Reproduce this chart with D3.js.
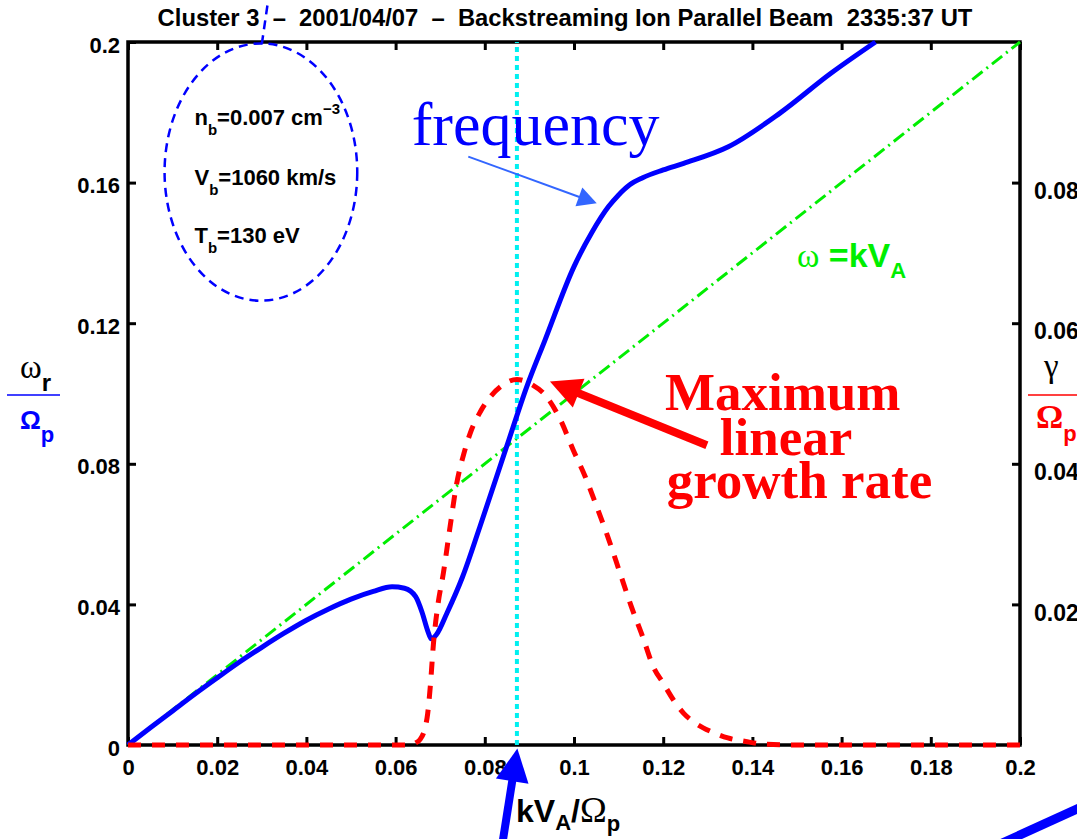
<!DOCTYPE html>
<html>
<head>
<meta charset="utf-8">
<script src="https://cdn.jsdelivr.net/npm/d3@7"></script>
<style>
  html, body { margin: 0; padding: 0; background: #fff; }
  svg { display: block; }
  text { font-family: "Liberation Sans", Arial, Helvetica, sans-serif; }
</style>
</head>
<body>
<svg id="chart" width="1077" height="839"></svg>
<script>
// Real frequency of the beam mode, ω_r/Ω_p versus kV_A/Ω_p (left axis)
const freqK = [0, 0.005, 0.01, 0.015, 0.02, 0.025, 0.03, 0.035, 0.04, 0.045, 0.05, 0.055,
  0.0592, 0.062, 0.0645, 0.066, 0.0672, 0.068, 0.0692, 0.0715, 0.075, 0.0789, 0.0849,
  0.0894, 0.0935, 0.1, 0.104, 0.1077, 0.11, 0.1125, 0.1154, 0.12, 0.1246, 0.1346, 0.1461,
  0.1576, 0.1676];
const freqOmega = [0, 0.0049, 0.0097, 0.0145, 0.0191, 0.0236, 0.0278, 0.0318, 0.0355,
  0.0387, 0.0415, 0.0437, 0.045, 0.0446, 0.0422, 0.0375, 0.0325, 0.0302, 0.0315, 0.0375,
  0.0478, 0.0621, 0.0849, 0.1019, 0.1152, 0.1361, 0.1458, 0.1531, 0.1565, 0.1594, 0.1614,
  0.1636, 0.1655, 0.1702, 0.1797, 0.1911, 0.2];

// Linear growth rate γ/Ω_p versus kV_A/Ω_p (right axis)
const growthK = [0, 0.02, 0.04, 0.06, 0.063, 0.0645, 0.0655, 0.0665, 0.0672, 0.0678,
  0.0685, 0.0695, 0.0707, 0.0722, 0.0737, 0.0752, 0.0767, 0.079, 0.0812, 0.084, 0.0872,
  0.0905, 0.0939, 0.097, 0.0998, 0.1025, 0.1051, 0.1077, 0.1103, 0.1128, 0.1154, 0.1178,
  0.12, 0.1223, 0.1246, 0.1275, 0.1308, 0.1345, 0.1385, 0.143, 0.15, 0.175, 0.2];
const growthGamma = [0, 0, 0, 0, 0, 0.0003, 0.0008, 0.0022, 0.0045, 0.0085, 0.0145,
  0.02, 0.0244, 0.031, 0.0372, 0.0412, 0.0443, 0.0474, 0.0495, 0.0512, 0.052, 0.0513,
  0.0495, 0.0462, 0.042, 0.0382, 0.0339, 0.0294, 0.0245, 0.0198, 0.0154, 0.0111, 0.0088,
  0.0064, 0.0045, 0.003, 0.0019, 0.001, 0.0005, 0.0001, 0, 0, 0];

// Alfvén dispersion line ω = kV_A
const alfvenK = [0, 0.2];
const alfvenOmega = [0, 0.2];

// wave number of maximum growth
const kMaxGrowth = 0.0872;

// axis ticks
const xTicks = [0, 0.02, 0.04, 0.06, 0.08, 0.1, 0.12, 0.14, 0.16, 0.18, 0.2];
const xTickLabels = ["0", "0.02", "0.04", "0.06", "0.08", "0.1", "0.12", "0.14", "0.16", "0.18", "0.2"];
const yLeftTicks = [0, 0.04, 0.08, 0.12, 0.16, 0.2];
const yLeftTickLabels = ["0", "0.04", "0.08", "0.12", "0.16", "0.2"];
const yRightTicks = [0.02, 0.04, 0.06, 0.08];
const yRightTickLabels = ["0.02", "0.04", "0.06", "0.08"];

const BLUE = "#0000ff", RED = "#ff0000", GREEN = "#00ee00", CYAN = "#00f0f0";
const SERIF = '"Liberation Serif", "Times New Roman", Times, serif';

const svg = d3.select("#chart");

const x = d3.scaleLinear().domain([0, 0.2]).range([128, 1020]);
const yL = d3.scaleLinear().domain([0, 0.2]).range([745, 42]);
const yR = d3.scaleLinear().domain([0, 0.1]).range([745, 42]);
const P = (k, w) => [x(k), yL(w)];

// ---- frame and axes ----
svg.append("rect")
  .attr("x", x(0)).attr("y", yL(0.2))
  .attr("width", x(0.2) - x(0)).attr("height", yL(0) - yL(0.2))
  .attr("fill", "none").attr("stroke", "#000").attr("stroke-width", 3.5);

function styleAxis(g) {
  g.select(".domain").remove();
  g.selectAll(".tick line").attr("stroke", "#000").attr("stroke-width", 3);
  g.selectAll(".tick text")
    .attr("fill", "#000")
    .style("font-family", '"Liberation Sans", Arial, sans-serif')
    .style("font-size", "22px").style("font-weight", "bold");
}

svg.append("g").attr("transform", `translate(0,${yL(0)})`)
  .call(d3.axisBottom(x).tickValues(xTicks).tickFormat((d, i) => xTickLabels[i])
    .tickSize(-8).tickPadding(14))
  .call(styleAxis);

svg.append("g").attr("transform", `translate(0,${yL(0.2)})`)
  .call(d3.axisTop(x).tickValues(xTicks).tickFormat("").tickSize(-8))
  .call(styleAxis);

svg.append("g").attr("transform", `translate(${x(0)},0)`)
  .call(d3.axisLeft(yL).tickValues(yLeftTicks).tickFormat((d, i) => yLeftTickLabels[i])
    .tickSize(-8).tickPadding(8))
  .call(styleAxis)
  .call(g => g.selectAll(".tick text").attr("dy", "0.46em"));

svg.append("g").attr("transform", `translate(${x(0.2)},0)`)
  .call(d3.axisRight(yR).tickValues(yRightTicks).tickFormat((d, i) => yRightTickLabels[i])
    .tickSize(-8).tickPadding(14))
  .call(styleAxis)
  .call(g => g.selectAll(".tick text").attr("dy", "0.68em").style("font-size", "23px"));

// ---- curves ----
const lineLeft = d3.line().x(d => x(d[0])).y(d => yL(d[1])).curve(d3.curveMonotoneX);
const lineRight = d3.line().x(d => x(d[0])).y(d => yR(d[1])).curve(d3.curveMonotoneX);

svg.append("path")
  .datum(d3.zip(alfvenK, alfvenOmega))
  .attr("d", lineLeft)
  .attr("fill", "none").attr("stroke", GREEN).attr("stroke-width", 3)
  .attr("stroke-dasharray", "13,5,2,5");

svg.append("line")
  .attr("x1", x(kMaxGrowth)).attr("x2", x(kMaxGrowth))
  .attr("y1", yL(0)).attr("y2", yL(0.2))
  .attr("stroke", CYAN).attr("stroke-width", 4).attr("stroke-dasharray", "5,4");

svg.append("path")
  .datum(d3.zip(freqK, freqOmega))
  .attr("d", lineLeft)
  .attr("fill", "none").attr("stroke", BLUE).attr("stroke-width", 5)
  .attr("stroke-linejoin", "round");

svg.append("path")
  .datum(d3.zip(growthK, growthGamma))
  .attr("d", lineRight)
  .attr("fill", "none").attr("stroke", RED).attr("stroke-width", 5)
  .attr("stroke-dasharray", "13,11");

// ---- annotations ----
function arrow(tail, tip, color, width, headLen, headW) {
  const dx = tip[0] - tail[0], dy = tip[1] - tail[1], L = Math.hypot(dx, dy);
  const ux = dx / L, uy = dy / L;
  const bx = tip[0] - ux * headLen, by = tip[1] - uy * headLen;
  svg.append("line")
    .attr("x1", tail[0]).attr("y1", tail[1])
    .attr("x2", bx + ux * 2).attr("y2", by + uy * 2)
    .attr("stroke", color).attr("stroke-width", width);
  svg.append("path")
    .attr("d", `M${tip[0]},${tip[1]}L${bx - uy * headW / 2},${by + ux * headW / 2}` +
      `L${bx + uy * headW / 2},${by - ux * headW / 2}Z`)
    .attr("fill", color);
}

// beam parameter ellipse
const ellC = P(0.0298, 0.163);
svg.append("ellipse")
  .attr("cx", ellC[0]).attr("cy", ellC[1])
  .attr("rx", x(0.0216) - x(0)).attr("ry", yL(0) - yL(0.0366))
  .attr("fill", "none").attr("stroke", BLUE).attr("stroke-width", 2.5)
  .attr("stroke-dasharray", "9,6");
const dl0 = P(0.03, 0.1994), dl1 = P(0.0315, 0.2125);
svg.append("line")
  .attr("x1", dl0[0]).attr("y1", dl0[1]).attr("x2", dl1[0]).attr("y2", dl1[1])
  .attr("stroke", BLUE).attr("stroke-width", 2.5).attr("stroke-dasharray", "9,6");

function beamLabel(k, w, main, sub, rest, sup) {
  const p = P(k, w);
  const t = svg.append("text").attr("x", p[0]).attr("y", p[1])
    .style("font-size", "22px").style("font-weight", "bold").attr("fill", "#000");
  t.append("tspan").text(main);
  t.append("tspan").attr("dy", 10).style("font-size", "15px").text(sub);
  t.append("tspan").attr("dy", -10).text(rest);
  if (sup) t.append("tspan").attr("dy", -11).style("font-size", "15px").text(sup);
}
beamLabel(0.0149, 0.1764, "n", "b", "=0.007 cm", "\u22123");
beamLabel(0.0149, 0.1593, "V", "b", "=1060 km/s");
beamLabel(0.0149, 0.1427, "T", "b", "=130 eV");

// frequency label and arrow
const fq = P(0.0636, 0.1707);
svg.append("text").attr("x", fq[0]).attr("y", fq[1])
  .style("font-family", SERIF)
  .style("font-size", "62px").attr("fill", BLUE).text("frequency");
arrow(P(0.0763, 0.1674), P(0.1051, 0.1541), "#3366ff", 2, 19, 20);

// maximum growth label and arrow
arrow(P(0.1298, 0.0853), P(0.0946, 0.1034), RED, 8, 31, 31);
{
  const lines = [["Maximum", 0.1204, 0.0953], ["linear", 0.1327, 0.0825], ["growth rate", 0.1208, 0.0703]];
  const t = svg.append("text")
    .style("font-family", SERIF)
    .style("font-size", "53px").style("font-weight", "bold").attr("fill", RED);
  lines.forEach(([s, k, w]) => {
    const p = P(k, w);
    t.append("tspan").attr("x", p[0]).attr("y", p[1]).text(s);
  });
}

// ω = kV_A label
{
  const p = P(0.15, 0.1361);
  const t = svg.append("text").attr("x", p[0]).attr("y", p[1])
    .attr("fill", GREEN).style("font-size", "34px").style("font-weight", "bold");
  t.append("tspan")
    .style("font-family", SERIF)
    .style("font-weight", "normal").text("\u03c9");
  t.append("tspan").text(" =kV");
  t.append("tspan").attr("dy", 11).style("font-size", "22px").text("A");
}

// arrows pointing at the wave number of maximum growth
arrow(P(0.0839, -0.0284), P(0.0873, -0.001), BLUE, 8, 33, 33);
const br0 = P(0.1955, -0.0282), br1 = P(0.2157, -0.0165);
svg.append("line")
  .attr("x1", br0[0]).attr("y1", br0[1]).attr("x2", br1[0]).attr("y2", br1[1])
  .attr("stroke", BLUE).attr("stroke-width", 9);

// ---- titles and axis labels ----
svg.append("text").attr("x", 565).attr("y", 26)
  .attr("text-anchor", "middle").style("white-space", "pre")
  .style("font-size", "23.8px").style("font-weight", "bold").attr("fill", "#000")
  .text("Cluster 3  \u2013  2001/04/07  \u2013  Backstreaming Ion Parallel Beam  2335:37 UT");

// x label
{
  const t = svg.append("text").attr("x", 516).attr("y", 822)
    .style("font-size", "32px").style("font-weight", "bold").attr("fill", "#000");
  t.append("tspan").text("kV");
  t.append("tspan").attr("dy", 8).style("font-size", "22px").text("A");
  t.append("tspan").attr("dy", -8).text("/");
  t.append("tspan")
    .style("font-family", SERIF)
    .style("font-weight", "normal").style("font-size", "36px").text("\u03a9");
  t.append("tspan").attr("dy", 9).style("font-size", "22px").text("p");
}

// left y label: ω_r / Ω_p
{
  const t1 = svg.append("text").attr("x", 20).attr("y", 378).attr("fill", "#000");
  t1.append("tspan")
    .style("font-family", SERIF)
    .style("font-size", "33px").text("\u03c9");
  t1.append("tspan").attr("dy", 13).style("font-size", "24px").style("font-weight", "bold").text("r");
  svg.append("line").attr("x1", 7).attr("x2", 60).attr("y1", 395).attr("y2", 395)
    .attr("stroke", BLUE).attr("stroke-width", 1.5);
  const t2 = svg.append("text").attr("x", 20).attr("y", 429).attr("fill", BLUE)
    .style("font-weight", "bold");
  t2.append("tspan").style("font-size", "26px").text("\u03a9");
  t2.append("tspan").attr("dy", 13).style("font-size", "22px").text("p");
}

// right y label: γ / Ω_p
{
  svg.append("text").attr("x", 1044).attr("y", 377).attr("fill", "#000")
    .style("font-family", SERIF)
    .style("font-size", "33px").text("\u03b3");
  svg.append("line").attr("x1", 1028).attr("x2", 1077).attr("y1", 395).attr("y2", 395)
    .attr("stroke", RED).attr("stroke-width", 1.5);
  const t2 = svg.append("text").attr("x", 1036).attr("y", 428).attr("fill", RED)
    .style("font-weight", "bold");
  t2.append("tspan")
    .style("font-family", SERIF)
    .style("font-size", "34px").text("\u03a9");
  t2.append("tspan").attr("dy", 13).style("font-size", "22px").text("p");
}
</script>
</body>
</html>
